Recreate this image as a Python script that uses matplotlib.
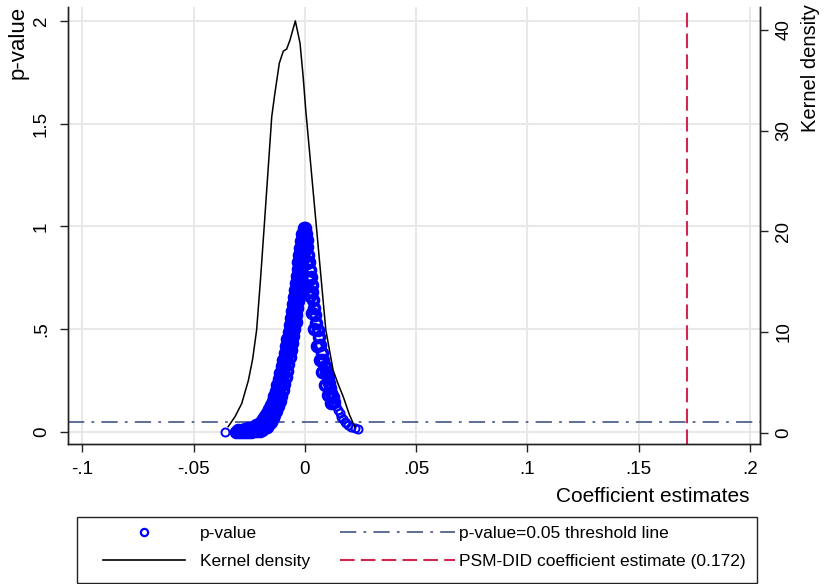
import matplotlib
matplotlib.use("Agg")
import matplotlib.pyplot as plt
from matplotlib.lines import Line2D
from matplotlib.patches import Rectangle

plt.rcParams['font.family'] = ['Liberation Sans', 'DejaVu Sans']

# ---------------- data ----------------
# p-value scatter: left branch (three rows across the dense band)
left_c_coef = [-0.0309, -0.0296, -0.0283, -0.0269, -0.0256, -0.0242, -0.0229, -0.0217,
               -0.0206, -0.0195, -0.0186, -0.0177, -0.0168, -0.0159, -0.0150, -0.0141,
               -0.0133, -0.0126, -0.0119, -0.0112, -0.0105, -0.0099, -0.0092, -0.0085,
               -0.0078, -0.0072, -0.0066, -0.0061, -0.0055, -0.0050, -0.0046, -0.0041,
               -0.0037, -0.0033, -0.0029, -0.0025, -0.0021, -0.0018, -0.0014, -0.0011,
               -0.0008, -0.0005, -0.0002]
left_c_pval = [0.002, 0.002, 0.002, 0.002, 0.002, 0.002, 0.007, 0.012,
               0.019, 0.029, 0.039, 0.051, 0.066, 0.083, 0.102, 0.124,
               0.146, 0.170, 0.195, 0.224, 0.253, 0.282, 0.316, 0.350,
               0.384, 0.418, 0.452, 0.486, 0.520, 0.554, 0.588, 0.622,
               0.656, 0.690, 0.725, 0.759, 0.793, 0.827, 0.861, 0.895,
               0.929, 0.963, 0.992]
left_o_coef = [-0.0300, -0.0285, -0.0270, -0.0255, -0.0242, -0.0230, -0.0219, -0.0208, -0.0198,
               -0.0189, -0.0180, -0.0171, -0.0162, -0.0153, -0.0145, -0.0138, -0.0131,
               -0.0124, -0.0117, -0.0111, -0.0104, -0.0097, -0.0091, -0.0085, -0.0079,
               -0.0073, -0.0068, -0.0063, -0.0058, -0.0053, -0.0049, -0.0045, -0.0041,
               -0.0037, -0.0033, -0.0029, -0.0025, -0.0021, -0.0016, -0.0011]
left_o_pval = [0.010, 0.012, 0.014, 0.017, 0.021, 0.026, 0.032, 0.040, 0.050,
               0.062, 0.076, 0.092, 0.110, 0.131, 0.153, 0.176, 0.201,
               0.229, 0.258, 0.288, 0.320, 0.352, 0.386, 0.420, 0.454,
               0.488, 0.522, 0.556, 0.590, 0.624, 0.658, 0.692, 0.726,
               0.760, 0.794, 0.828, 0.862, 0.896, 0.930, 0.962]
left_i_coef = [-0.0215, -0.0203, -0.0192, -0.0182, -0.0172, -0.0163, -0.0154, -0.0145, -0.0137,
               -0.0129, -0.0121, -0.0114, -0.0107, -0.0100, -0.0093, -0.0087, -0.0080,
               -0.0074, -0.0068, -0.0062, -0.0057, -0.0052, -0.0047, -0.0042, -0.0038,
               -0.0034, -0.0030, -0.0026, -0.0022, -0.0018, -0.0015, -0.0012, -0.0009,
               -0.0006, -0.0003, 0.0000, 0.0000]
left_i_pval = [0.003, 0.006, 0.011, 0.017, 0.026, 0.037, 0.050, 0.066, 0.084,
               0.104, 0.127, 0.151, 0.177, 0.205, 0.234, 0.265, 0.297,
               0.330, 0.364, 0.398, 0.432, 0.466, 0.500, 0.534, 0.568,
               0.602, 0.636, 0.670, 0.704, 0.738, 0.772, 0.806, 0.840,
               0.874, 0.908, 0.942, 0.975]
# right branch (dense upper part and sparse tail)
right_coef = [0.0002, 0.0005, 0.0008, 0.0011, 0.0015, 0.0018, 0.0022, 0.0026, 0.0030,
              0.0034, 0.0038, 0.0042, 0.0047, 0.0052, 0.0058, 0.0064, 0.0070, 0.0076,
              0.0083, 0.0089, 0.0096, 0.0102, 0.0108, 0.0113, 0.0119, 0.0125, 0.0132]
right_pval = [0.992, 0.965, 0.934, 0.900, 0.861, 0.825, 0.788, 0.752, 0.715,
              0.680, 0.642, 0.605, 0.569, 0.532, 0.496, 0.460, 0.423, 0.386,
              0.350, 0.320, 0.292, 0.265, 0.238, 0.214, 0.190, 0.168, 0.146]
right_i_coef = [0.0004, 0.0010, 0.0017, 0.0025, 0.0033, 0.0043, 0.0054, 0.0066,
                0.0078, 0.0090, 0.0103, 0.0116]
right_i_pval = [0.90, 0.82, 0.74, 0.66, 0.58, 0.50, 0.42, 0.35, 0.29, 0.23, 0.18, 0.14]
tail_coef = [-0.0359, 0.0140, 0.0148, 0.0156, 0.0164, 0.0172, 0.0179, 0.0187, 0.0195, 0.0209,
             0.0224, 0.0239]
tail_pval = [0.001, 0.126, 0.107, 0.090, 0.075, 0.062, 0.051, 0.042, 0.034, 0.024,
             0.019, 0.013]

# kernel density of the coefficient estimates
kd_coef = [-0.0345, -0.0314, -0.0284, -0.0254, -0.0235, -0.0217, -0.0199, -0.0181, -0.0149,
           -0.0135, -0.0115, -0.0097, -0.0082, -0.0067, -0.0043, -0.0022, -0.0008, 0.0004,
           0.0049, 0.0094, 0.0127, 0.0150, 0.0172, 0.0200, 0.0224]
kd_dens = [0.6, 1.6, 2.9, 5.2, 7.3, 10.2, 15.4, 21.1, 31.4,
           33.7, 36.7, 37.9, 38.1, 39.0, 40.9, 38.7, 35.4, 32.0,
           21.1, 10.2, 6.2, 4.8, 3.6, 1.8, 0.6]

threshold = 0.05
psm_did_estimate = 0.172

x_ticks = [-0.1, -0.05, 0, 0.05, 0.1, 0.15, 0.2]
x_ticklabels = ['-.1', '-.05', '0', '.05', '.1', '.15', '.2']
p_ticks = [0, 0.5, 1, 1.5, 2]
p_ticklabels = ['0', '.5', '1', '1.5', '2']
kd_ticks = [0, 10, 20, 30, 40]
kd_ticklabels = ['0', '10', '20', '30', '40']

# ---------------- figure ----------------
W, H = 826, 584
fig = plt.figure(figsize=(W / 100, H / 100), dpi=100)
ax = fig.add_axes([68 / W, 1 - 444 / H, 692 / W, 437 / H])
ax2 = ax.twinx()

blue = '#0000ff'
thr_color = '#50628e'
red = '#d0264f'

ax.set_xlim(-0.1065, 0.2046)
ax.set_ylim(-0.0584, 2.0666)
ax2.set_ylim(-1.12, 42.28)

ax.set_xticks(x_ticks)
ax.set_xticklabels(x_ticklabels)
ax.set_yticks(p_ticks)
ax.set_yticklabels(p_ticklabels, rotation=90, va='center')
ax2.set_yticks(kd_ticks)
ax2.set_yticklabels(kd_ticklabels, rotation=90, va='center')

ax.grid(True, color='#e8e8e8', linewidth=1.5, zorder=0)
ax.set_axisbelow(True)

for a in (ax, ax2):
    a.spines['top'].set_visible(False)
    for s in a.spines.values():
        s.set_linewidth(1.0)
        s.set_color('#222222')
ax.tick_params(axis='both', direction='out', length=6, width=1.0, color='#222222',
               labelsize=13.5, pad=6)
ax.tick_params(axis='y', pad=7)
ax2.tick_params(axis='y', direction='out', length=6, width=1.0, color='#222222',
                labelsize=13.5, pad=5)

ax.axhline(threshold, color=thr_color, linewidth=1.3, dashes=(9, 4, 1.5, 4), zorder=2)
ax.axvline(psm_did_estimate, color=red, linewidth=1.5, dashes=(7, 3), zorder=2)

dense = dict(marker='o', linestyle='none', markersize=7.2, markerfacecolor='none',
             markeredgecolor=blue, markeredgewidth=2.6, zorder=3)
sparse = dict(marker='o', linestyle='none', markersize=5.8, markerfacecolor='none',
              markeredgecolor=blue, markeredgewidth=1.4, zorder=3)
ax.plot(left_o_coef, left_o_pval, **dense)
ax.plot(left_i_coef, left_i_pval, **dense)
ax.plot(right_i_coef, right_i_pval, **dense)
ax.plot(left_c_coef, left_c_pval, **dense)
ax.plot(right_coef, right_pval, **dense)
ax.plot(tail_coef, tail_pval, **sparse)

ax2.plot(kd_coef, kd_dens, color='black', linewidth=1.1, zorder=4)

# axis titles
fig.text(18 / W, 1 - 6 / H, 'p-value', rotation=90, ha='center', va='top', fontsize=16)
fig.text(811 / W, 1 - 4 / H, 'Kernel density', rotation=90, ha='center', va='top', fontsize=14.5)
fig.text(750 / W, 1 - 497 / H, 'Coefficient estimates', ha='right', va='center', fontsize=15)

# legend
fig.patches.append(Rectangle((77 / W, 1 - 583 / H), 680 / W, 66 / H, transform=fig.transFigure,
                             facecolor='white', edgecolor='#222222', linewidth=1.0))
h_p = Line2D([], [], marker='o', linestyle='none', markersize=5.2, markerfacecolor='none',
             markeredgecolor=blue, markeredgewidth=1.6)
h_k = Line2D([], [], color='black', linewidth=1.2)
h_t = Line2D([], [], color=thr_color, linewidth=1.3, dashes=(9, 4, 1.5, 4))
h_r = Line2D([], [], color=red, linewidth=1.5, dashes=(7, 3))
leg1 = fig.legend([h_p, h_k], ['p-value', 'Kernel density'], loc='upper left',
                  bbox_to_anchor=(103 / W, 1 - 526 / H), frameon=False, fontsize=12.5,
                  handlelength=4.7, handletextpad=0.9, borderpad=0, borderaxespad=0,
                  labelspacing=0.75)
leg2 = fig.legend([h_t, h_r], ['p-value=0.05 threshold line', 'PSM-DID coefficient estimate (0.172)'],
                  loc='upper left', bbox_to_anchor=(340 / W, 1 - 526 / H), frameon=False,
                  fontsize=12.5, handlelength=6.6, handletextpad=0.25, borderpad=0,
                  borderaxespad=0, labelspacing=0.75)

fig.savefig('out.png', dpi=100)
